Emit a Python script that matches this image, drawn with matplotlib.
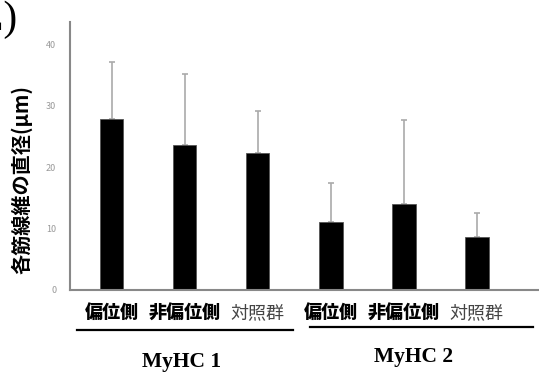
import matplotlib.pyplot as plt

plt.rcParams['font.family'] = ['Noto Sans CJK JP', 'DejaVu Sans']

# data
groups = ["MyHC 1", "MyHC 2"]
categories = ["偏位側", "非偏位側", "対照群", "偏位側", "非偏位側", "対照群"]
means = [27.8, 23.6, 22.3, 11.1, 14.0, 8.6]
sds = [9.3, 11.6, 6.9, 6.3, 13.6, 4.0]
yticks = [0, 10, 20, 30, 40]

fig = plt.figure(figsize=(5.39, 3.76), dpi=100)
ax = fig.add_axes([0.13, 0.229, 0.87, 0.712])

x = list(range(len(means)))
ax.bar(x, means, width=0.32, color='black', edgecolor='#555555', linewidth=0.6, zorder=2)
ax.errorbar(x, means, yerr=[[0] * len(sds), sds], fmt='none', ecolor='#aaaaaa',
            elinewidth=1.2, capsize=2.5, capthick=1.2, zorder=1)

ax.set_xlim(-0.57, 5.85)
ax.set_ylim(0, 43.6)
ax.set_yticks(yticks)
ax.set_yticklabels([str(t) for t in yticks], fontsize=6.5, color='#999999')
ax.tick_params(axis='y', length=0, pad=10)
ax.set_xticks([])
for s in ['top', 'right']:
    ax.spines[s].set_visible(False)
ax.spines['left'].set_color('#888888')
ax.spines['left'].set_linewidth(1.5)
ax.spines['bottom'].set_color('#888888')
ax.spines['bottom'].set_linewidth(1.5)

fig.text(22 / 539, 1 - 180 / 376, "各筋線維の直径(μm)", rotation=90, ha='center', va='center',
         fontsize=14.5, fontweight='bold')

# category labels below the axis
for i, lab in enumerate(categories):
    w = 'normal' if lab == "対照群" else 'heavy'
    c = '#444444' if lab == "対照群" else 'black'
    ax.text(i, 0, lab, ha='center', va='center', fontsize=13, fontweight=w, color=c,
            transform=ax.get_xaxis_transform() + plt.matplotlib.transforms.ScaledTranslation(0, -0.23, fig.dpi_scale_trans),
            clip_on=False)

# group underlines and names
fig.add_artist(plt.Line2D([77 / 539, 293 / 539], [1 - 330 / 376] * 2, color='black', lw=1.6))
fig.add_artist(plt.Line2D([310 / 539, 533 / 539], [1 - 327 / 376] * 2, color='black', lw=1.6))
fig.text(182 / 539, 1 - 362 / 376, groups[0], ha='center', va='center', fontsize=15.5,
         fontweight='bold', family='Liberation Serif')
fig.text(414 / 539, 1 - 357 / 376, groups[1], ha='center', va='center', fontsize=15.5,
         fontweight='bold', family='Liberation Serif')

# clipped panel letter in the corner
fig.text(17 / 539, 1 - 20 / 376, "(E)", ha='right', va='center', fontsize=30,
         family='Liberation Serif')

fig.savefig("out.png", dpi=100)
